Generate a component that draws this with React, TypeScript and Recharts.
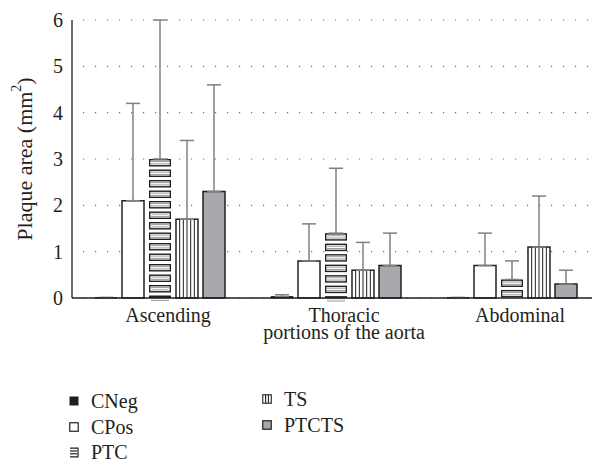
import { BarChart, Bar, XAxis, YAxis, CartesianGrid, ErrorBar, Legend } from "recharts";

const regions = ["Ascending", "Thoracic|portions of the aorta", "Abdominal"];
const cneg = [0.01, 0.03, 0.01];
const cnegErr = [0, 0.04, 0];
const cpos = [2.1, 0.8, 0.7];
const cposErr = [2.1, 0.8, 0.7];
const ptc = [3.0, 1.4, 0.4];
const ptcErr = [3.0, 1.4, 0.4];
const ts = [1.7, 0.6, 1.1];
const tsErr = [1.7, 0.6, 1.1];
const ptcts = [2.3, 0.7, 0.3];
const ptctsErr = [2.3, 0.7, 0.3];
const yTicks = [0, 1, 2, 3, 4, 5, 6];

const data = regions.map((region, i) => ({
  region,
  CNeg: cneg[i],
  cnegErr: [0, cnegErr[i]],
  CPos: cpos[i],
  cposErr: [0, cposErr[i]],
  PTC: ptc[i],
  ptcErr: [0, ptcErr[i]],
  TS: ts[i],
  tsErr: [0, tsErr[i]],
  PTCTS: ptcts[i],
  ptctsErr: [0, ptctsErr[i]],
}));

const INK = "#231f20";
const GREY = "#a7a9ac";
const ERR = "#808080";
const FONT = "'Liberation Serif', serif";

// horizontal stacked little boxes
const PtcShape = (props: any) => {
  const { x, y, width, height } = props;
  if (!height || height <= 0) return null;
  const step = 10.5;
  const parts = [];
  parts.push(<rect key="bg" x={x} y={y} width={width} height={height} fill="#fff" />);
  let k = 0;
  for (let t = y; t < y + height - 1; t += step) {
    const b = Math.min(t + 7.5, y + height);
    parts.push(
      <g key={k++}>
        <line x1={x + 2} x2={x + width - 2} y1={t + 2.6} y2={t + 2.6} stroke="#9a9a9a" strokeWidth={1} />
        <line x1={x + 2} x2={x + width - 2} y1={t + 4.9} y2={t + 4.9} stroke="#9a9a9a" strokeWidth={1} />
        <rect x={x + 0.7} y={t + 0.7} width={width - 1.4} height={Math.max(b - t - 1.4, 0.5)} fill="none" stroke={INK} strokeWidth={1.4} />
      </g>
    );
  }
  return <g>{parts}</g>;
};

// vertical stripes
const TsShape = (props: any) => {
  const { x, y, width, height } = props;
  if (!height || height <= 0) return null;
  const lines = [];
  for (let i = 1; i < 6; i++) {
    const lx = x + (width * i) / 6;
    lines.push(<line key={i} x1={lx} x2={lx} y1={y} y2={y + height} stroke={INK} strokeWidth={1} />);
  }
  return (
    <g>
      <rect x={x} y={y} width={width} height={height} fill="#fff" />
      {lines}
      <rect x={x} y={y} width={width} height={height} fill="none" stroke={INK} strokeWidth={1.5} />
    </g>
  );
};

const RegionTick = (props: any) => {
  const { x, y, payload } = props;
  const lines = String(payload.value).split("|");
  return (
    <g>
      {lines.map((l, i) => (
        <text
          key={i}
          x={x + 8}
          y={y + 24 + i * 17}
          textAnchor="middle"
          fontFamily={FONT}
          fontSize={20}
          fill={INK}
        >
          {l}
        </text>
      ))}
    </g>
  );
};

const ValueTick = (props: any) => {
  const { x, y, payload } = props;
  return (
    <text x={x} y={y + 7} textAnchor="end" fontFamily={FONT} fontSize={20} fill={INK}>
      {payload.value}
    </text>
  );
};

const YLabel = (props: any) => {
  const vb = props.viewBox || { x: 0, y: 20, width: 72, height: 278 };
  const cx = 24;
  const cy = vb.y + vb.height / 2;
  return (
    <text
      transform={`translate(${cx}, ${cy}) rotate(-90)`}
      textAnchor="middle"
      dominantBaseline="central"
      fontFamily={FONT}
      fontSize={22}
      fill={INK}
    >
      Plaque area (mm<tspan dy={-8} fontSize={14}>2</tspan>
      <tspan dy={8}>)</tspan>
    </text>
  );
};

const icon = (name: string) => {
  switch (name) {
    case "CNeg":
      return <rect x={0.5} y={0.5} width={9} height={9} fill={INK} />;
    case "CPos":
      return <rect x={0.75} y={0.75} width={8.5} height={8.5} fill="#fff" stroke={INK} strokeWidth={1.2} />;
    case "PTC":
      return (
        <g stroke={INK} strokeWidth={1.2} fill="none">
          <path d="M1 1.2 H9 V9.8 H1" />
          <line x1={1} x2={8} y1={4} y2={4} />
          <line x1={1} x2={8} y1={6.8} y2={6.8} />
        </g>
      );
    case "TS":
      return (
        <g stroke={INK} strokeWidth={1.1} fill="#fff">
          <rect x={0.75} y={0.75} width={8.5} height={8.5} />
          <line x1={3.6} x2={3.6} y1={1} y2={9} />
          <line x1={6.4} x2={6.4} y1={1} y2={9} />
        </g>
      );
    default:
      return <rect x={0.75} y={0.75} width={8.5} height={8.5} fill={GREY} stroke={INK} strokeWidth={1.2} />;
  }
};

const legendPos: Record<string, { left: number; top: number }> = {
  CNeg: { left: 69, top: 389 },
  CPos: { left: 69, top: 415 },
  PTC: { left: 69, top: 440 },
  TS: { left: 262, top: 387 },
  PTCTS: { left: 262, top: 413 },
};

const LegendContent = (props: any) => {
  const items = (props.payload || []).map((p: any) => String(p.value));
  return (
    <div style={{ position: "relative", width: 592, height: 463 }}>
      {items.map((name: string) => {
        const pos = legendPos[name];
        if (!pos) return null;
        return (
          <div
            key={name}
            style={{
              position: "absolute",
              left: pos.left,
              top: pos.top,
              display: "flex",
              alignItems: "center",
              fontFamily: FONT,
              fontSize: 20,
              color: INK,
              lineHeight: "24px",
              whiteSpace: "nowrap",
            }}
          >
            <svg width={10} height={11} style={{ marginRight: 12 }}>
              {icon(name)}
            </svg>
            {name}
          </div>
        );
      })}
    </div>
  );
};

export default function App() {
  return (
    <div
      style={{
        position: "absolute",
        left: 0,
        top: 0,
        width: 592,
        height: 463,
        overflow: "hidden",
        background: "#fff",
        fontFamily: FONT,
      }}
    >
      <BarChart
        width={600}
        height={463}
        data={data}
        margin={{ top: 20, right: 0, bottom: 135, left: 0 }}
        barSize={22}
        barGap={5}
      >
        <CartesianGrid
          vertical={false}
          stroke="#6d6e71"
          strokeWidth={1.2}
          strokeDasharray="1.2 10.8"
          strokeDashoffset={-11}
        />
        <XAxis
          dataKey="region"
          height={30}
          axisLine={{ stroke: INK, strokeWidth: 1.3 }}
          tickLine={false}
          tickSize={0}
          tickMargin={0}
          tick={<RegionTick />}
          interval={0}
        />
        <YAxis
          width={72}
          domain={[0, 6]}
          ticks={yTicks}
          axisLine={{ stroke: INK, strokeWidth: 1.3 }}
          tickLine={false}
          tickSize={0}
          tickMargin={9}
          tick={<ValueTick />}
          label={<YLabel />}
        />
        <Legend
          layout="horizontal"
          verticalAlign="middle"
          align="center"
          wrapperStyle={{ left: 0, top: 0, width: 592, height: 463, pointerEvents: "none" }}
          content={<LegendContent />}
        />
        <Bar dataKey="CNeg" fill={INK} stroke={INK} strokeWidth={1} isAnimationActive={false}>
          <ErrorBar dataKey="cnegErr" stroke={ERR} strokeWidth={1.5} width={7} isAnimationActive={false} />
        </Bar>
        <Bar dataKey="CPos" fill="#fff" stroke={INK} strokeWidth={1.5} isAnimationActive={false}>
          <ErrorBar dataKey="cposErr" stroke={ERR} strokeWidth={1.5} width={7} isAnimationActive={false} />
        </Bar>
        <Bar dataKey="PTC" fill="#fff" shape={<PtcShape />} isAnimationActive={false}>
          <ErrorBar dataKey="ptcErr" stroke={ERR} strokeWidth={1.5} width={7} isAnimationActive={false} />
        </Bar>
        <Bar dataKey="TS" fill="#fff" shape={<TsShape />} isAnimationActive={false}>
          <ErrorBar dataKey="tsErr" stroke={ERR} strokeWidth={1.5} width={7} isAnimationActive={false} />
        </Bar>
        <Bar dataKey="PTCTS" fill={GREY} stroke={INK} strokeWidth={1.5} isAnimationActive={false}>
          <ErrorBar dataKey="ptctsErr" stroke={ERR} strokeWidth={1.5} width={7} isAnimationActive={false} />
        </Bar>
      </BarChart>
    </div>
  );
}
